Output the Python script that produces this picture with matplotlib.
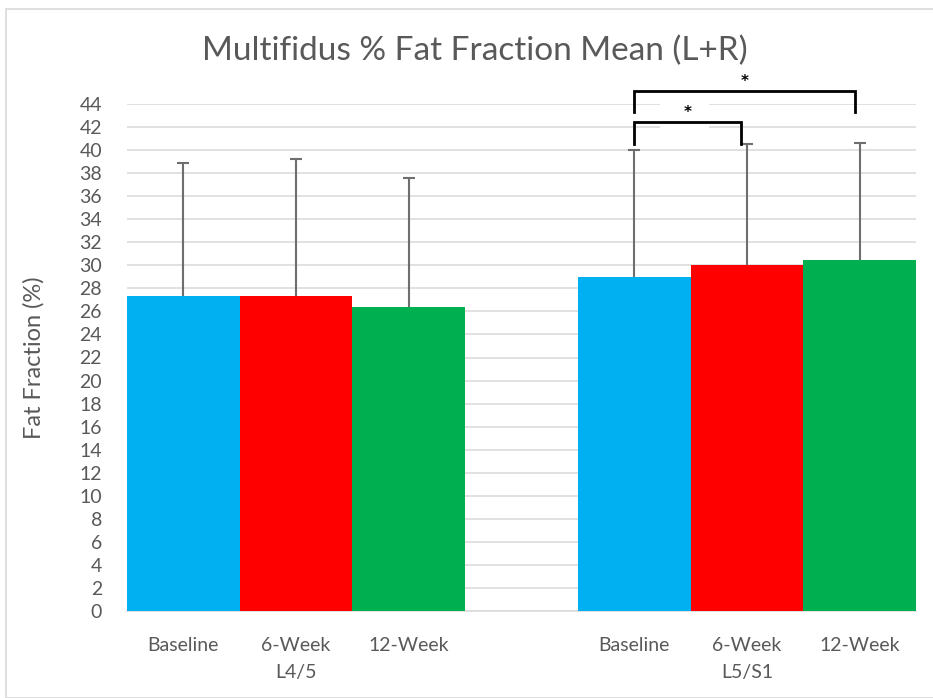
import matplotlib
matplotlib.use("Agg")
import matplotlib.pyplot as plt
from matplotlib.patches import Rectangle
import numpy as np

plt.rcParams['font.family'] = ['Lato', 'DejaVu Sans']

groups = ["L4/5", "L5/S1"]
timepoints = ["Baseline", "6-Week", "12-Week"]
means_L45 = [27.3, 27.3, 26.4]
sd_L45 = [11.6, 11.9, 11.2]
means_L5S1 = [29.0, 30.0, 30.5]
sd_L5S1 = [11.0, 10.5, 10.1]
colors = ["#00B0F0", "#FF0000", "#00B050"]
yticks = list(range(0, 46, 2))

W, H = 933, 698
fig = plt.figure(figsize=(W / 100, H / 100), dpi=100)
ax = fig.add_axes([127 / W, (H - 611) / H, 789 / W, 507 / H])

gray_txt = "#595959"
x_positions = [[0, 1, 2], [4, 5, 6]]
all_means = [means_L45, means_L5S1]
all_sd = [sd_L45, sd_L5S1]
for xs, m, s in zip(x_positions, all_means, all_sd):
    ax.bar(xs, m, width=1.0, color=colors, zorder=3)
    eb = ax.errorbar(xs, m, yerr=[np.zeros(len(s)), s], fmt='none', ecolor="#6E6E6E",
                     elinewidth=1.5, capsize=4.5, capthick=1.5, zorder=4)
    eb[1][0].set_visible(False)  # hide lower caps (plus-only error bars)

ax.set_xlim(-0.5, 6.5)
ax.set_ylim(0, 44)
ax.set_yticks(yticks)
ax.set_yticklabels([str(t) for t in yticks], fontsize=14, color=gray_txt)
ax.tick_params(axis='y', length=0, pad=18)
ax.tick_params(axis='x', length=0)
ax.set_xticks([])
ax.yaxis.grid(True, color="#D9D9D9", linewidth=1.1, zorder=0)
ax.set_axisbelow(True)
for sp in ["top", "right", "left"]:
    ax.spines[sp].set_visible(False)
ax.spines["bottom"].set_color("#D9D9D9")
ax.spines["bottom"].set_linewidth(1.1)

trans = ax.get_xaxis_transform()
for xs, g in zip(x_positions, groups):
    for x, t in zip(xs, timepoints):
        ax.text(x, -0.068, t, transform=trans, ha='center', va='center',
                fontsize=14, color=gray_txt)
    ax.text(xs[1], -0.121, g, transform=trans, ha='center', va='center',
            fontsize=14, color=gray_txt)

ax.set_ylabel("Fat Fraction (%)", fontsize=17, color=gray_txt)
ax.yaxis.set_label_coords(-0.104, 0.5)

fig.text(0.509, 0.927, "Multifidus % Fat Fraction Mean (L+R)", ha='center', va='center',
         fontsize=24, color=gray_txt)

# white box behind bracket labels interrupting gridlines
ax.add_patch(Rectangle((4.23, 41.4), 0.43, 3.0, facecolor='white', edgecolor='none',
                       zorder=1.5, clip_on=False))

# significance brackets
bk = dict(color='black', linewidth=2, zorder=5, clip_on=False, solid_joinstyle='miter')
ax.plot([4.0, 4.0, 5.96, 5.96], [43.3, 45.1, 45.1, 43.3], **bk)
ax.plot([4.0, 4.0, 4.95, 4.95], [40.5, 42.4, 42.4, 40.5], **bk)
ax.text(4.98, 45.95, "*", ha='center', va='center', fontsize=11, color='black',
        fontweight='bold', family='DejaVu Sans', clip_on=False)
ax.text(4.47, 43.25, "*", ha='center', va='center', fontsize=11, color='black',
        fontweight='bold', family='DejaVu Sans', clip_on=False)

# chart border
fig.add_artist(Rectangle((6 / W, 0), 1.2, (H - 9) / H, transform=fig.transFigure,
                         facecolor='none', edgecolor='#D9D9D9', linewidth=1.2))

fig.savefig("out.png", dpi=100)
